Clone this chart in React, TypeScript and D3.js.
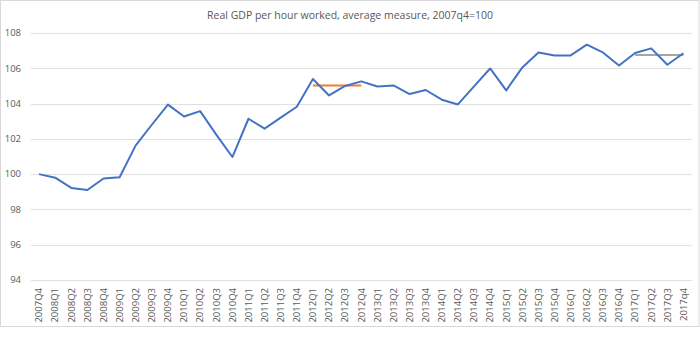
import { useEffect, useRef } from 'react';
import * as d3 from 'd3';

// quarters 2007Q4 .. 2017q4
const quarters = [
  '2007Q4',
  '2008Q1', '2008Q2', '2008Q3', '2008Q4',
  '2009Q1', '2009Q2', '2009Q3', '2009Q4',
  '2010Q1', '2010Q2', '2010Q3', '2010Q4',
  '2011Q1', '2011Q2', '2011Q3', '2011Q4',
  '2012Q1', '2012Q2', '2012Q3', '2012Q4',
  '2013Q1', '2013Q2', '2013Q3', '2013Q4',
  '2014Q1', '2014Q2', '2014Q3', '2014Q4',
  '2015Q1', '2015Q2', '2015Q3', '2015Q4',
  '2016Q1', '2016Q2', '2016Q3', '2016Q4',
  '2017Q1', '2017Q2', '2017Q3', '2017q4',
];

const gdpPerHour = [
  100.0,
  99.8, 99.22, 99.1, 99.75,
  99.82, 101.63, 102.8, 103.94,
  103.27, 103.57, 102.24, 100.97,
  103.14, 102.58, 103.2, 103.82,
  105.39, 104.46, 105.0, 105.26,
  104.97, 105.03, 104.54, 104.77,
  104.22, 103.95, 104.97, 105.99,
  104.75, 106.05, 106.9, 106.73,
  106.73, 107.34, 106.9, 106.16,
  106.87, 107.13, 106.2, 106.85,
];

// annual averages drawn as flat segments
const avg2012Quarters = ['2012Q1', '2012Q2', '2012Q3', '2012Q4'];
const avg2012Values = [105.03, 105.03, 105.03, 105.03];
const avg2017Quarters = ['2017Q1', '2017Q2', '2017Q3', '2017q4'];
const avg2017Values = [106.76, 106.76, 106.76, 106.76];

const yTicks = [94, 96, 98, 100, 102, 104, 106, 108];

const W = 700;
const H = 353;

export default function App() {
  const svgRef = useRef<SVGSVGElement>(null);

  useEffect(() => {
    const svg = d3.select(svgRef.current);
    svg.selectAll('*').remove();

    const font = '"Open Sans", sans-serif';
    const left = 31;
    const right = 691.5;
    const top = 33;
    const bottom = 280;

    // chart frame
    svg.append('rect')
      .attr('x', 0.5).attr('y', 0.5)
      .attr('width', W - 1.5).attr('height', 326)
      .attr('fill', '#fff')
      .attr('stroke', '#d9d9d9');

    const x = d3.scaleBand()
      .domain(quarters)
      .range([left, right]);

    const y = d3.scaleLinear()
      .domain([94, 108])
      .range([bottom, top]);

    const cx = (q: string) => (x(q) as number) + x.bandwidth() / 2;

    // gridlines
    svg.append('g')
      .selectAll('line')
      .data(yTicks)
      .enter()
      .append('line')
      .attr('x1', left).attr('x2', right)
      .attr('y1', d => Math.round(y(d)) + 0.5)
      .attr('y2', d => Math.round(y(d)) + 0.5)
      .attr('stroke', '#e0e0e0')
      .attr('stroke-width', 1);

    // y labels
    svg.append('g')
      .selectAll('text')
      .data(yTicks)
      .enter()
      .append('text')
      .attr('x', 21)
      .attr('y', d => y(d))
      .attr('dy', '0.35em')
      .attr('text-anchor', 'end')
      .attr('fill', '#595959')
      .style('font-family', font)
      .style('font-size', '9.5px')
      .text(d => d);

    // x labels
    svg.append('g')
      .selectAll('text')
      .data(quarters)
      .enter()
      .append('text')
      .attr('transform', d => `translate(${cx(d)},288) rotate(-90)`)
      .attr('dy', '0.35em')
      .attr('text-anchor', 'end')
      .attr('fill', '#595959')
      .style('font-family', font)
      .style('font-size', '9.5px')
      .text(d => d);

    const line = d3.line<[string, number]>()
      .x(d => cx(d[0]))
      .y(d => y(d[1]));

    svg.append('path')
      .datum(d3.zip(avg2012Quarters, avg2012Values) as [string, number][])
      .attr('d', line)
      .attr('fill', 'none')
      .attr('stroke', '#ed7d31')
      .attr('stroke-width', 2);

    svg.append('path')
      .datum(d3.zip(avg2017Quarters, avg2017Values) as [string, number][])
      .attr('d', line)
      .attr('fill', 'none')
      .attr('stroke', '#a5a5a5')
      .attr('stroke-width', 2);

    svg.append('path')
      .datum(d3.zip(quarters, gdpPerHour) as [string, number][])
      .attr('d', line)
      .attr('fill', 'none')
      .attr('stroke', '#4472c4')
      .attr('stroke-width', 2)
      .attr('stroke-linejoin', 'round');

    // title
    svg.append('text')
      .attr('x', 350)
      .attr('y', 19)
      .attr('text-anchor', 'middle')
      .attr('fill', '#595959')
      .style('font-family', font)
      .style('font-size', '10.5px')
      .text('Real GDP per hour worked, average measure, 2007q4=100');
  }, []);

  return (
    <svg
      ref={svgRef}
      width={W}
      height={H}
      style={{ position: 'absolute', left: 0, top: 0, background: '#fff' }}
    />
  );
}
